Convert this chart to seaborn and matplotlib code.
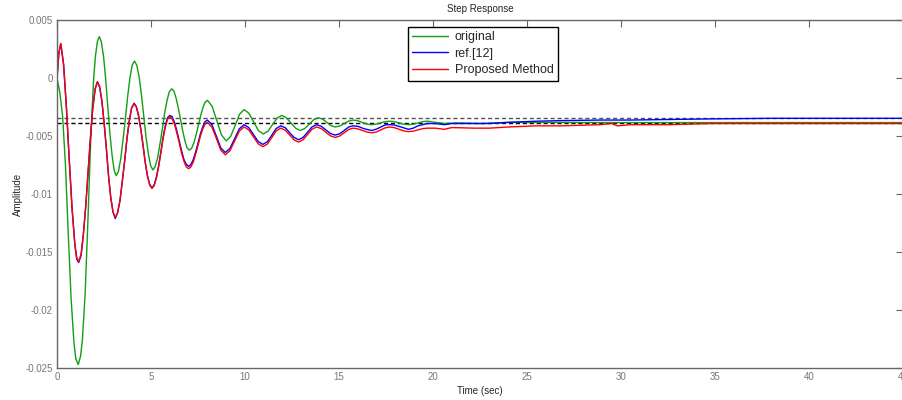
import matplotlib
matplotlib.use('Agg')
import matplotlib.pyplot as plt
import seaborn as sns
import pandas as pd

# ---- data (time in sec, amplitude) ----
t_orig = [0.00, 0.15, 0.30, 0.45, 0.60, 0.75, 0.90, 1.00, 1.13, 1.25, 1.35, 1.50, 1.65, 1.80, 1.95, 2.05, 2.15, 2.25,
          2.36, 2.48, 2.59, 2.70, 2.81, 2.93, 3.04, 3.15,
          3.27, 3.39, 3.51, 3.64, 3.76, 3.88, 4.00, 4.12,
          4.24, 4.37, 4.49, 4.61, 4.73, 4.86, 4.98, 5.10,
          5.22, 5.35, 5.47, 5.60, 5.72, 5.85, 5.97, 6.10,
          6.22, 6.33, 6.45, 6.57, 6.69, 6.81, 6.92, 7.04,
          7.16, 7.28, 7.40, 7.52, 7.64, 7.76, 7.88, 8.00,
          8.25, 8.50, 8.75, 9.00,
          9.24, 9.48, 9.71, 9.95,
          10.20, 10.46, 10.71, 10.97,
          11.22, 11.46, 11.71, 11.95,
          12.20, 12.44, 12.69, 12.93,
          13.17, 13.42, 13.66, 13.90,
          14.12, 14.35, 14.57, 14.80,
          15.04, 15.28, 15.52, 15.76,
          16.00, 16.23, 16.47, 16.70,
          16.95, 17.20, 17.45, 17.70,
          17.95, 18.20, 18.45, 18.70,
          18.95, 19.20, 19.45, 19.70,
          20.60, 21.40, 22.50, 24.00, 26.00, 30.00, 45.00]
y_orig = [0.0000, -0.0012, -0.0033, -0.0075, -0.0135, -0.0190, -0.0228, -0.0242, -0.0247, -0.0240, -0.0226,
          -0.0185, -0.0120, -0.0050, 0.0000, 0.0020, 0.0032, 0.0036,
          0.00314, 0.00184, -0.0001, -0.0024, -0.0047, -0.00664, -0.00794, -0.0084,
          -0.00802, -0.00695, -0.00535, -0.00345, -0.00155, 0.00005, 0.00112, 0.0015,
          0.00114, 0.00012, -0.0014, -0.0032, -0.0050, -0.00652, -0.00754, -0.0079,
          -0.00763, -0.00687, -0.00574, -0.0044, -0.00306, -0.00193, -0.00117, -0.0009,
          -0.0011, -0.00168, -0.00254, -0.00355, -0.00456, -0.00542, -0.0060, -0.0062,
          -0.00604, -0.00557, -0.00487, -0.00405, -0.00323, -0.00253, -0.00206, -0.0019,
          -0.00241, -0.00365, -0.00489, -0.0054,
          -0.0050, -0.00405, -0.0031, -0.0027,
          -0.0030, -0.00375, -0.0045, -0.0048,
          -0.00457, -0.0040, -0.00343, -0.0032,
          -0.0034, -0.00385, -0.0043, -0.0045,
          -0.00434, -0.00395, -0.00356, -0.0034,
          -0.00352, -0.0038, -0.00408, -0.0042,
          -0.00411, -0.0039, -0.00369, -0.0036,
          -0.00366, -0.0038, -0.00394, -0.0040,
          -0.00396, -0.00385, -0.00374, -0.0037,
          -0.00374, -0.00385, -0.00396, -0.0040,
          -0.00396, -0.00385, -0.00374, -0.0037,
          -0.0039, -0.00385, -0.0039, -0.0038, -0.0038, -0.00382, -0.00382]

# ref.[12] and proposed method share the same time samples
t_fit = [0.00, 0.10, 0.20, 0.35, 0.50, 0.65, 0.80, 0.95, 1.05, 1.15,
         1.28, 1.40, 1.53, 1.65, 1.78, 1.90, 2.03, 2.15,
         2.27, 2.39, 2.51, 2.63, 2.74, 2.86, 2.98, 3.10,
         3.22, 3.35, 3.47, 3.60, 3.72, 3.85, 3.97, 4.10,
         4.22, 4.34, 4.46, 4.58, 4.69, 4.81, 4.93, 5.05,
         5.17, 5.29, 5.41, 5.53, 5.64, 5.76, 5.88, 6.00,
         6.12, 6.25, 6.37, 6.50, 6.62, 6.75, 6.87, 7.00,
         7.12, 7.25, 7.37, 7.50, 7.62, 7.75, 7.87, 8.00,
         8.24, 8.48, 8.71, 8.95,
         9.20, 9.45, 9.70, 9.95,
         10.20, 10.45, 10.70, 10.95,
         11.19, 11.43, 11.66, 11.90,
         12.14, 12.38, 12.61, 12.85,
         13.09, 13.33, 13.56, 13.80,
         14.05, 14.30, 14.55, 14.80,
         15.04, 15.28, 15.51, 15.75,
         16.00, 16.25, 16.50, 16.75,
         16.99, 17.23, 17.46, 17.70,
         17.95, 18.20, 18.45, 18.70,
         18.95, 19.20, 19.45, 19.70,
         20.10, 20.60, 21.00, 22.20, 23.00, 24.00, 25.50, 26.80, 28.90, 29.50, 29.80, 30.50, 32.60, 34.80, 38.00, 45.00]
y_ref = [0.0000, 0.0022, 0.0030, 0.0012, -0.0025, -0.0070, -0.0112, -0.0144, -0.0156, -0.0159,
         -0.0153, -0.0135, -0.0110, -0.0081, -0.0051, -0.0026, -0.0009, -0.0003,
         -0.00075, -0.0020, -0.0039, -0.00615, -0.0084, -0.0103, -0.01155, -0.0121,
         -0.0116, -0.01055, -0.0089, -0.0071, -0.0052, -0.0036, -0.00255, -0.00215,
         -0.00243, -0.0032, -0.0044, -0.0058, -0.0072, -0.0084, -0.00915, -0.00945,
         -0.0092, -0.0085, -0.0075, -0.0063, -0.0051, -0.0041, -0.0034, -0.0032,
         -0.0033, -0.0038, -0.0045, -0.0054, -0.0062, -0.0070, -0.0074, -0.0076,
         -0.00745, -0.0070, -0.00637, -0.0056, -0.00483, -0.0042, -0.00375, -0.0036,
         -0.0040, -0.0050, -0.0060, -0.0064,
         -0.00605, -0.0052, -0.00435, -0.0040,
         -0.00425, -0.00485, -0.00545, -0.0057,
         -0.00547, -0.0049, -0.00433, -0.0041,
         -0.00426, -0.0047, -0.0051, -0.0053,
         -0.0051, -0.00465, -0.0042, -0.0040,
         -0.00413, -0.00445, -0.00477, -0.0049,
         -0.00478, -0.0045, -0.0042, -0.0041,
         -0.00414, -0.0043, -0.00442, -0.0045,
         -0.00438, -0.0042, -0.00402, -0.0040,
         -0.00403, -0.00415, -0.00428, -0.0044,
         -0.0043, -0.0041, -0.0040, -0.0039,
         -0.0039, -0.0040, -0.0039, -0.0039, -0.0039, -0.0038, -0.0037, -0.00365,
         -0.0036, -0.0036, -0.0036, -0.0036, -0.00355, -0.0035, -0.00345, -0.00345]
y_prop = [0.0000, 0.0022, 0.0030, 0.0012, -0.0025, -0.0070, -0.0112, -0.0143, -0.0155, -0.0158,
          -0.0152, -0.0135, -0.0110, -0.0081, -0.0051, -0.0026, -0.0009, -0.0003,
          -0.00075, -0.0020, -0.0039, -0.00615, -0.0084, -0.0103, -0.01155, -0.0120,
          -0.01163, -0.01056, -0.00898, -0.0071, -0.00522, -0.00364, -0.00257, -0.0022,
          -0.00248, -0.00327, -0.00445, -0.00585, -0.00725, -0.00843, -0.00922, -0.0095,
          -0.00926, -0.00859, -0.00759, -0.0064, -0.00521, -0.00421, -0.00354, -0.0033,
          -0.00347, -0.00396, -0.00469, -0.00555, -0.00641, -0.00714, -0.00763, -0.0078,
          -0.00765, -0.00721, -0.00657, -0.0058, -0.00503, -0.00439, -0.00395, -0.0038,
          -0.00421, -0.0052, -0.00619, -0.0066,
          -0.00625, -0.0054, -0.00455, -0.0042,
          -0.00445, -0.00505, -0.00565, -0.0059,
          -0.00567, -0.0051, -0.00453, -0.0043,
          -0.00448, -0.0049, -0.00532, -0.0055,
          -0.0053, -0.00485, -0.0044, -0.0042,
          -0.00433, -0.00465, -0.00497, -0.0051,
          -0.00498, -0.0047, -0.00442, -0.0043,
          -0.00436, -0.0045, -0.00464, -0.0047,
          -0.00463, -0.00445, -0.00427, -0.0042,
          -0.00426, -0.0044, -0.00454, -0.0046,
          -0.00456, -0.00445, -0.00434, -0.0043,
          -0.0043, -0.0044, -0.00425, -0.0043, -0.0043, -0.0042, -0.0041, -0.0041,
          -0.0040, -0.0039, -0.0041, -0.0040, -0.0040, -0.0039, -0.0039, -0.0039]

# steady state levels (dashed lines)
ss_upper = -0.00340
ss_lower = -0.00387

x_ticks = [0, 5, 10, 15, 20, 25, 30, 35, 40, 45]
y_ticks = [-0.025, -0.02, -0.015, -0.01, -0.005, 0, 0.005]
y_tick_labels = ['-0.025', '-0.02', '-0.015', '-0.01', '-0.005', '0', '0.005']

series_names = ['original', 'ref.[12]', 'Proposed Method']
colors = ['#10a010', '#0000ff', '#ff0000']

# ---- plot ----
sns.set_style('white')
plt.rcParams['font.family'] = ['Liberation Sans', 'DejaVu Sans']

fig = plt.figure(figsize=(9.02, 4.0), dpi=100)
ax = fig.add_axes([0.0632, 0.08, 0.9379, 0.869])

ax.axhline(ss_upper, color='#555555', lw=1.0, ls=(0, (3, 2)), zorder=1)
ax.axhline(ss_lower, color='black', lw=1.0, ls=(0, (3, 2)), zorder=1)

sns.lineplot(x=t_orig, y=y_orig, color=colors[0], lw=1.0, label=series_names[0],
             sort=False, estimator=None, ax=ax)
sns.lineplot(x=t_fit, y=y_ref, color=colors[1], lw=1.0, label=series_names[1],
             sort=False, estimator=None, ax=ax)
sns.lineplot(x=t_fit, y=y_prop, color=colors[2], lw=1.0, label=series_names[2],
             sort=False, estimator=None, ax=ax)

ax.set_xlim(0, 45)
ax.set_ylim(-0.025, 0.005)
ax.set_xticks(x_ticks)
ax.set_xticklabels([str(v) for v in x_ticks])
ax.set_yticks(y_ticks)
ax.set_yticklabels(y_tick_labels)

for s in ax.spines.values():
    s.set_color('#666666')
    s.set_linewidth(1.0)
ax.tick_params(direction='in', length=5, width=0.8, color='#666666',
               labelcolor='#777777', labelsize=7, top=True, right=True, pad=3)

ax.set_title('Step Response', fontsize=7, pad=6)
ax.set_xlabel('Time (sec)', fontsize=7, labelpad=3)
ax.set_ylabel('Amplitude', fontsize=7, labelpad=2)

leg = ax.legend(loc='upper left', bbox_to_anchor=(0.4145, 0.981), borderaxespad=0,
                fontsize=9, frameon=True, fancybox=False, handlelength=2.9,
                labelspacing=0.35, borderpad=0.35, handletextpad=0.5)
leg.get_frame().set_edgecolor('black')
leg.get_frame().set_linewidth(1.0)
leg.get_frame().set_alpha(1)

plt.savefig('out.png', dpi=100)
